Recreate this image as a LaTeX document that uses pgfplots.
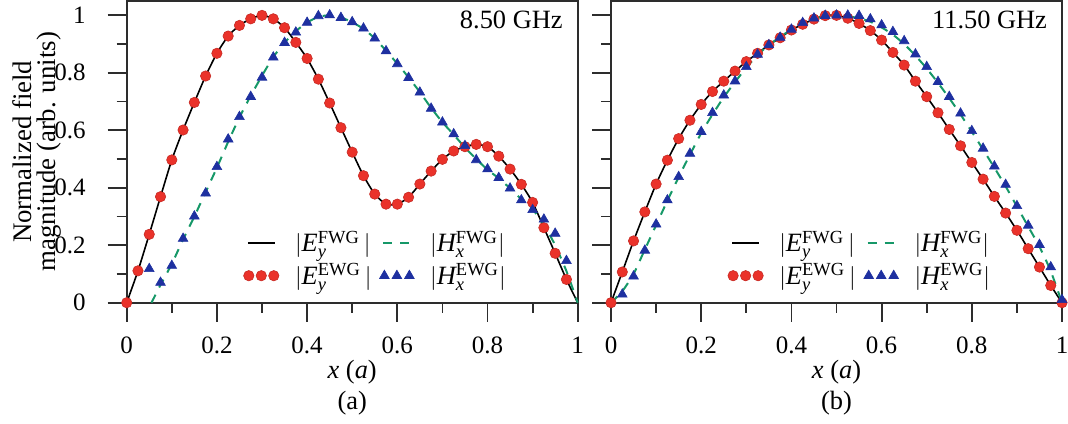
\documentclass[border=0pt]{standalone}
\usepackage{fontspec}
\setmainfont{Liberation Serif}
\setsansfont{Liberation Serif}
\renewcommand{\familydefault}{\rmdefault}
\usepackage{pgfplots}
\pgfplotsset{compat=1.18}
\definecolor{myred}{RGB}{234,50,42}
\definecolor{myblue}{RGB}{30,48,160}
\definecolor{mygreen}{RGB}{22,152,104}
\definecolor{frame}{RGB}{45,45,45}
\newcommand{\fs}{\rmfamily\fontsize{12.5}{14}\selectfont}
\newcommand{\fl}{\rmfamily\fontsize{13.2}{15}\selectfont}
\pgfplotsset{
  fieldaxis/.style={
    scale only axis, width=225.5pt, height=150.85pt,
    xmin=0, xmax=1, ymin=0, ymax=1.05,
    axis line style={line width=1pt, frame},
    xtick={0,0.2,0.4,0.6,0.8,1}, minor xtick={0.1,0.3,0.5,0.7,0.9},
    ytick={0,0.2,0.4,0.6,0.8,1}, minor ytick={0.1,0.3,0.5,0.7,0.9},
    tick align=outside, tick pos=left,
    major tick length=9.5pt, minor tick length=5pt,
    every tick/.style={frame, line width=0.9pt},
    /pgf/number format/.cd, fixed, precision=1, assume math mode=true, /pgfplots/.cd,
    tick label style={font=\fs},
    clip=false,
    legend style={at={(axis cs:0.245,0.03)}, anchor=south west, draw=none, fill=none,
      font=\fl, legend columns=2, row sep=2.5pt, nodes={inner sep=1pt},
      /tikz/every even column/.append style={column sep=3pt},
      /tikz/every odd column/.append style={column sep=7pt}},
    legend cell align=left,
  },
  lineleg/.style={legend image code/.code={\draw[##1] (0pt,0pt) -- (13.5pt,0pt);}},
  markleg/.style={legend image code/.code={\draw[mark repeat=1,##1] plot coordinates {(0.5pt,0pt)(6.75pt,0pt)(13pt,0pt)};}},
  ered/.style={only marks, mark=*, mark size=2.6pt, mark options={fill=myred, draw=myred!85!black, line width=0.3pt}, markleg},
  hblue/.style={only marks, mark=triangle*, mark size=2.8pt, mark options={fill=myblue, draw=myblue, line width=0.3pt}, markleg},
  eline/.style={black, line width=0.8pt, no marks, smooth, tension=0.4, lineleg},
  hline/.style={mygreen, line width=1pt, dash pattern=on 4.5pt off 4pt, no marks, smooth, tension=0.4, lineleg},
}
\begin{document}
\begin{tikzpicture}[font=\fs]
\useasboundingbox (0,0) rectangle (534pt,-211.5pt);
\node[rotate=90, align=center, font=\rmfamily\fontsize{13.4}{11.6}\selectfont] at (18.5pt,-75.9pt) {Normalized field\\magnitude (arb. units)};
% ---------------- (a) 8.50 GHz ----------------
\begin{axis}[fieldaxis, at={(63.35pt,-151.35pt)}, anchor=south west,
  xticklabel style={anchor=north, yshift=-4pt}, yticklabel style={anchor=east, xshift=-7.5pt}]
\addplot[eline] coordinates {
(0,0)(0.025,0.111)(0.05,0.238)(0.075,0.369)(0.1,0.497)(0.125,0.601)(0.15,0.697)(0.175,0.789)
(0.2,0.868)(0.225,0.928)(0.25,0.965)(0.275,0.988)(0.3,1.0)(0.325,0.988)(0.35,0.957)(0.375,0.906)
(0.4,0.850)(0.425,0.778)(0.45,0.695)(0.475,0.609)(0.5,0.524)(0.525,0.442)(0.55,0.378)(0.575,0.343)
(0.6,0.343)(0.625,0.367)(0.65,0.413)(0.675,0.458)(0.7,0.499)(0.725,0.528)(0.75,0.543)(0.775,0.551)
(0.8,0.543)(0.825,0.510)(0.85,0.465)(0.875,0.412)(0.9,0.349)(0.925,0.261)(0.95,0.172)(0.975,0.081)(1,0)};
\addlegendentry{$|\mathit{E}_{\mathit{y}}^{\mathrm{FWG}}\,|$}
\addplot[hline] coordinates {
(0.055,0)(0.075,0.062)(0.1,0.135)(0.125,0.22)(0.15,0.30)(0.175,0.385)(0.2,0.47)(0.225,0.56)
(0.25,0.645)(0.275,0.72)(0.3,0.79)(0.325,0.855)(0.35,0.905)(0.375,0.945)(0.4,0.975)(0.425,0.995)
(0.45,1.0)(0.475,0.993)(0.5,0.976)(0.525,0.953)(0.55,0.92)(0.575,0.877)(0.6,0.832)(0.625,0.784)
(0.65,0.733)(0.675,0.678)(0.7,0.628)(0.725,0.585)(0.75,0.54)(0.775,0.50)(0.8,0.463)(0.825,0.433)
(0.85,0.398)(0.875,0.36)(0.9,0.325)(0.925,0.272)(0.95,0.2)(0.975,0.11)(1,0)};
\addlegendentry{$|\mathit{H}_{\mathit{x}}^{\mathrm{FWG}}|$}
\addplot[ered] coordinates {
(0,0)(0.025,0.111)(0.05,0.238)(0.075,0.369)(0.1,0.497)(0.125,0.601)(0.15,0.697)(0.175,0.789)
(0.2,0.868)(0.225,0.928)(0.25,0.965)(0.275,0.988)(0.3,1.0)(0.325,0.988)(0.35,0.957)(0.375,0.906)
(0.4,0.850)(0.425,0.778)(0.45,0.695)(0.475,0.609)(0.5,0.524)(0.525,0.442)(0.55,0.378)(0.575,0.343)
(0.6,0.343)(0.625,0.367)(0.65,0.413)(0.675,0.458)(0.7,0.499)(0.725,0.528)(0.75,0.543)(0.775,0.551)
(0.8,0.543)(0.825,0.510)(0.85,0.465)(0.875,0.412)(0.9,0.349)(0.925,0.261)(0.95,0.172)(0.975,0.081)};
\addlegendentry{$|\mathit{E}_{\mathit{y}}^{\mathrm{EWG}}\,|$}
\addplot[hblue] coordinates {
(0.05,0.118)(0.075,0.070)(0.1,0.129)(0.125,0.223)(0.15,0.301)(0.175,0.381)(0.2,0.473)(0.225,0.569)
(0.25,0.647)(0.275,0.717)(0.3,0.784)(0.325,0.854)(0.35,0.905)(0.375,0.941)(0.4,0.975)(0.425,0.998)
(0.45,1.001)(0.475,0.992)(0.5,0.977)(0.525,0.955)(0.55,0.920)(0.575,0.876)(0.6,0.831)(0.625,0.783)
(0.65,0.732)(0.675,0.676)(0.7,0.628)(0.725,0.587)(0.75,0.546)(0.775,0.497)(0.8,0.465)(0.825,0.435)
(0.85,0.398)(0.875,0.357)(0.9,0.323)(0.925,0.290)(0.95,0.241)(0.975,0.146)};
\addlegendentry{$|\mathit{H}_{\mathit{x}}^{\mathrm{EWG}}|$}
\node[anchor=east, font=\fl] at (rel axis cs:1,0.937) [xshift=-4pt] {8.50 GHz};
\node[font=\fl] at (rel axis cs:0.5,0) [yshift=-34.5pt] {\textit{x} (\textit{a})};
\node[font=\fl] at (rel axis cs:0.5,0) [yshift=-50.3pt] {(a)};
\end{axis}
% ---------------- (b) 11.50 GHz ----------------
\begin{axis}[fieldaxis, at={(305.5pt,-151.35pt)}, anchor=south west,
  xticklabel style={anchor=north, yshift=-4pt}, yticklabels={}]
\addplot[eline] coordinates {
(0,0)(0.025,0.107)(0.05,0.215)(0.075,0.316)(0.1,0.413)(0.125,0.496)(0.15,0.571)(0.175,0.635)
(0.2,0.690)(0.225,0.735)(0.25,0.771)(0.275,0.806)(0.3,0.839)(0.325,0.868)(0.35,0.897)(0.375,0.922)
(0.4,0.949)(0.425,0.969)(0.45,0.987)(0.475,0.999)(0.5,1.0)(0.525,0.990)(0.55,0.972)(0.575,0.947)
(0.6,0.914)(0.625,0.871)(0.65,0.827)(0.675,0.771)(0.7,0.717)(0.725,0.661)(0.75,0.603)(0.775,0.546)
(0.8,0.488)(0.825,0.430)(0.85,0.370)(0.875,0.312)(0.9,0.252)(0.925,0.188)(0.95,0.124)(0.975,0.060)(1,0)};
\addlegendentry{$|\mathit{E}_{\mathit{y}}^{\mathrm{FWG}}\,|$}
\addplot[hline] coordinates {
(0,0)(0.025,0.04)(0.05,0.1)(0.075,0.185)(0.1,0.27)(0.125,0.355)(0.15,0.437)(0.175,0.515)
(0.2,0.59)(0.225,0.655)(0.25,0.715)(0.275,0.768)(0.3,0.818)(0.325,0.862)(0.35,0.897)(0.375,0.925)
(0.4,0.951)(0.425,0.972)(0.45,0.988)(0.475,0.997)(0.5,1.0)(0.525,0.997)(0.55,0.99)(0.575,0.978)
(0.6,0.958)(0.625,0.933)(0.65,0.9)(0.675,0.86)(0.7,0.815)(0.725,0.765)(0.75,0.712)(0.775,0.655)
(0.8,0.595)(0.825,0.533)(0.85,0.47)(0.875,0.405)(0.9,0.335)(0.925,0.265)(0.95,0.195)(0.975,0.11)(1,0)};
\addlegendentry{$|\mathit{H}_{\mathit{x}}^{\mathrm{FWG}}|$}
\addplot[ered] coordinates {
(0,0)(0.025,0.107)(0.05,0.215)(0.075,0.316)(0.1,0.413)(0.125,0.496)(0.15,0.571)(0.175,0.635)
(0.2,0.690)(0.225,0.735)(0.25,0.771)(0.275,0.806)(0.3,0.839)(0.325,0.868)(0.35,0.897)(0.375,0.922)
(0.4,0.949)(0.425,0.969)(0.45,0.987)(0.475,0.999)(0.5,1.0)(0.525,0.990)(0.55,0.972)(0.575,0.947)
(0.6,0.914)(0.625,0.871)(0.65,0.827)(0.675,0.771)(0.7,0.717)(0.725,0.661)(0.75,0.603)(0.775,0.546)
(0.8,0.488)(0.825,0.430)(0.85,0.370)(0.875,0.312)(0.9,0.252)(0.925,0.188)(0.95,0.124)(0.975,0.060)(1,0)};
\addlegendentry{$|\mathit{E}_{\mathit{y}}^{\mathrm{EWG}}\,|$}
\addplot[hblue] coordinates {
(0.025,0.029)(0.05,0.092)(0.075,0.182)(0.1,0.273)(0.125,0.357)(0.15,0.438)(0.175,0.519)(0.2,0.595)
(0.225,0.661)(0.25,0.722)(0.275,0.771)(0.3,0.821)(0.325,0.864)(0.35,0.897)(0.375,0.923)(0.4,0.951)
(0.425,0.974)(0.45,0.990)(0.475,0.999)(0.5,1.0)(0.525,1.0)(0.55,0.999)(0.575,0.987)(0.6,0.966)
(0.625,0.943)(0.65,0.911)(0.675,0.865)(0.7,0.821)(0.725,0.769)(0.75,0.717)(0.775,0.659)(0.8,0.598)
(0.825,0.537)(0.85,0.475)(0.875,0.411)(0.9,0.337)(0.925,0.269)(0.95,0.202)(0.975,0.124)(1,0.01)};
\addlegendentry{$|\mathit{H}_{\mathit{x}}^{\mathrm{EWG}}|$}
\node[anchor=east, font=\fl] at (rel axis cs:1,0.937) [xshift=-4pt] {11.50 GHz};
\node[font=\fl] at (rel axis cs:0.5,0) [yshift=-34.5pt] {\textit{x} (\textit{a})};
\node[font=\fl] at (rel axis cs:0.5,0) [yshift=-50.3pt] {(b)};
\end{axis}
\end{tikzpicture}
\end{document}
